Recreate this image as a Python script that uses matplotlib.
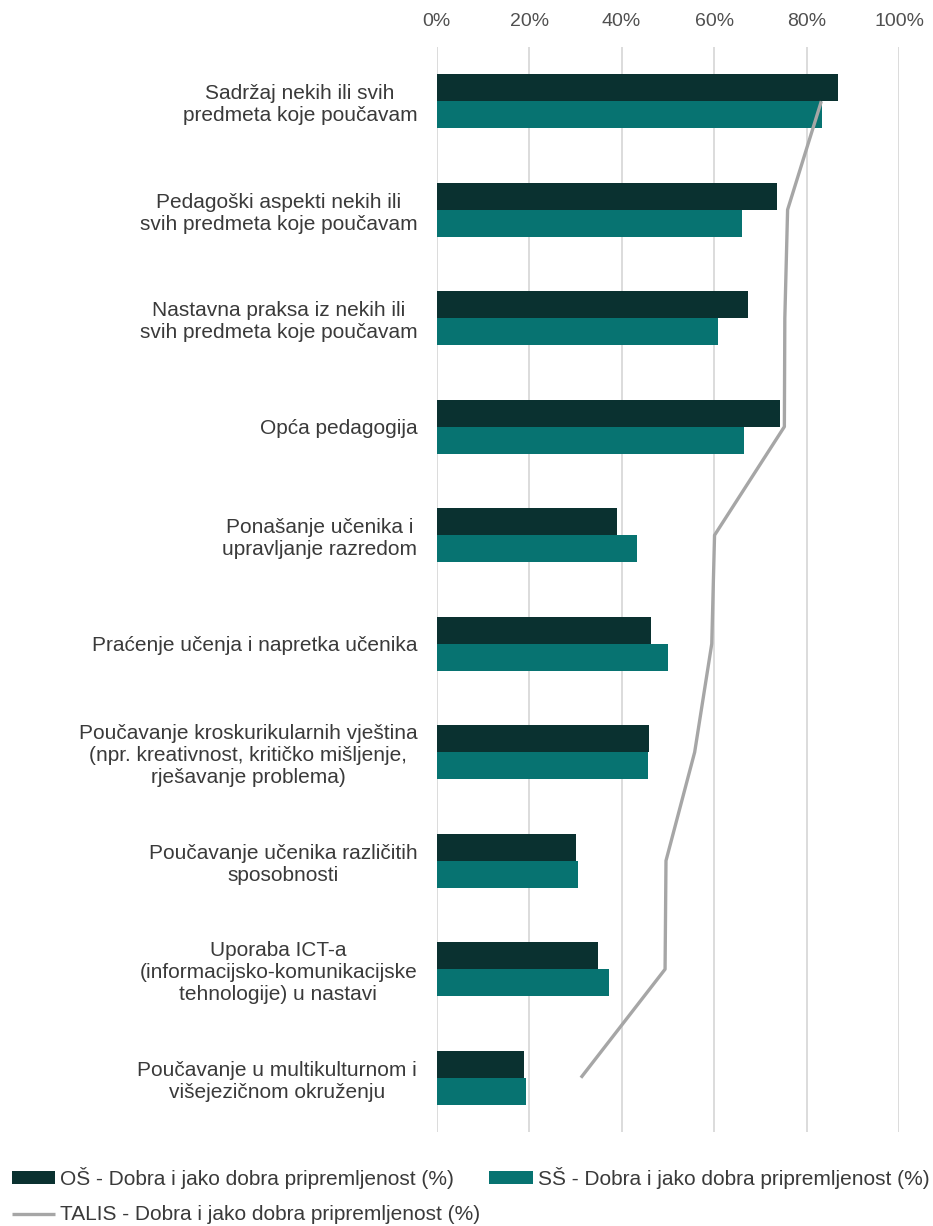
import matplotlib
matplotlib.use("Agg")
import matplotlib.pyplot as plt
import numpy as np

plt.rcParams['font.family'] = ['Liberation Sans', 'DejaVu Sans']

categories = [
    "Sadržaj nekih ili svih\npredmeta koje poučavam",
    "Pedagoški aspekti nekih ili\nsvih predmeta koje poučavam",
    "Nastavna praksa iz nekih ili\nsvih predmeta koje poučavam",
    "Opća pedagogija",
    "Ponašanje učenika i\nupravljanje razredom",
    "Praćenje učenja i napretka učenika",
    "Poučavanje kroskurikularnih vještina\n(npr. kreativnost, kritičko mišljenje,\nrješavanje problema)",
    "Poučavanje učenika različitih\nsposobnosti",
    "Uporaba ICT-a\n(informacijsko-komunikacijske\ntehnologije) u nastavi",
    "Poučavanje u multikulturnom i\nvišejezičnom okruženju",
]
os_vals = [86.8, 73.7, 67.4, 74.2, 39.0, 46.4, 46.0, 30.2, 34.8, 19.0]
ss_vals = [83.4, 66.0, 60.8, 66.4, 43.3, 50.1, 45.8, 30.5, 37.3, 19.3]
talis_vals = [83.2, 75.9, 75.3, 75.2, 60.1, 59.5, 55.8, 49.6, 49.4, 31.2]
xticks = [0, 20, 40, 60, 80, 100]

dark = '#0a3130'
teal = '#077371'
grey = '#a6a6a6'
txt = '#3a3a3a'

fig = plt.figure(figsize=(9.33, 12.26), dpi=100)
ax = fig.add_axes([0.468, 0.0767, 0.4956, 0.885])

y = np.arange(len(categories))
h = 0.25
b1 = ax.barh(y - h / 2, os_vals, height=h, color=dark, zorder=2)
b2 = ax.barh(y + h / 2, ss_vals, height=h, color=teal, zorder=2)
ln, = ax.plot(talis_vals, y, color=grey, lw=2.4, zorder=3, solid_capstyle='butt')

ax.set_ylim(len(categories) - 0.5, -0.5)
ax.set_xlim(0, 100)
ax.set_yticks(y)
ax.set_yticklabels(categories, fontsize=15, color=txt, multialignment='center', linespacing=1.2)
ax.set_xticks(xticks)
ax.set_xticklabels([f"{t}%" for t in xticks], fontsize=14, color='#505050')
ax.xaxis.tick_top()
ax.tick_params(axis='both', length=0)
ax.tick_params(axis='x', pad=12)
ax.tick_params(axis='y', pad=14)
ax.grid(axis='x', color='#d9d9d9', lw=1.3, zorder=0)
for s in ax.spines.values():
    s.set_visible(False)

leg = fig.legend([b1, ln, b2],
                 ["OŠ - Dobra i jako dobra pripremljenost (%)",
                  "TALIS - Dobra i jako dobra pripremljenost (%)",
                  "SŠ - Dobra i jako dobra pripremljenost (%)"],
                 ncol=2, loc='lower left', bbox_to_anchor=(-0.003, -0.0106),
                 frameon=False, fontsize=15, handlelength=2.07, handleheight=0.55,
                 handletextpad=0.24, columnspacing=0.45, labelspacing=0.8,
                 borderaxespad=0.3, labelcolor=txt)

fig.savefig('out.png', dpi=100)
